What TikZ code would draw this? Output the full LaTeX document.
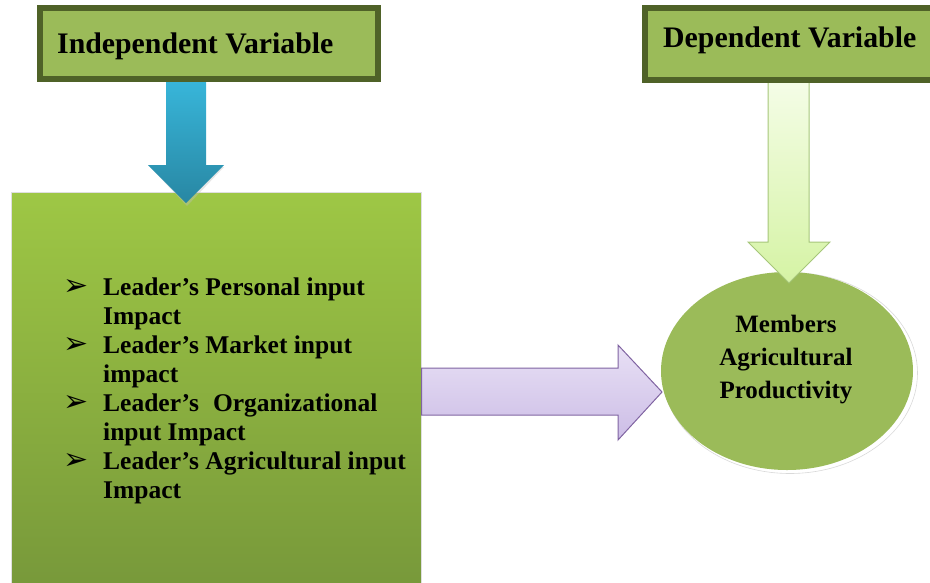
\documentclass[tikz,border=0pt]{standalone}
\usepackage{fontspec}
\usetikzlibrary{shapes.geometric}
\setmainfont{Liberation Serif}
\newfontfamily\dejavu{DejaVu Sans}
\definecolor{olivefill}{HTML}{9BBB59}
\definecolor{olivedark}{HTML}{4F6228}
\definecolor{boxtop}{HTML}{9EC745}
\definecolor{boxbot}{HTML}{77983A}
\definecolor{bluetop}{HTML}{38B6DA}
\definecolor{bluebot}{HTML}{2887A3}
\definecolor{purptop}{HTML}{E8E0F5}
\definecolor{purpbot}{HTML}{CCBDE6}
\definecolor{purpline}{HTML}{8064A2}
\definecolor{lgtop}{HTML}{F5FDE8}
\definecolor{lgbot}{HTML}{D5F3A4}
\definecolor{lgline}{HTML}{A6C67A}
\tikzset{
  headbox/.style={draw=olivedark, line width=6pt, fill=olivefill, inner sep=0pt},
  headtext/.style={font=\bfseries\fontsize{29.8}{34}\selectfont, inner sep=0pt, anchor=base west},
  bigarrow/.style={line width=1pt, line join=miter},
}
\newcommand{\bul}{{\dejavu\fontsize{30}{30}\selectfont ➢}}
\begin{document}
\begin{tikzpicture}[x=1pt,y=-1pt]
\useasboundingbox (0,0) rectangle (930,582);
% big green box
\node[inner sep=0pt, minimum width=410pt, minimum height=400pt, anchor=north west,
      top color=boxtop, bottom color=boxbot, draw=gray!25, line width=0.6pt] (lbox) at (11,192) {};
% list
\node[anchor=base west, inner sep=0pt] (list) at (63,295)
  {\bfseries\fontsize{25.5}{29}\selectfont
   \begin{tabular}[t]{@{}p{40pt}@{}l@{}}
   \bul & Leader’s Personal input\\
        & Impact\\
   \bul & Leader’s Market input\\
        & impact\\
   \bul & Leader’s\hspace{0.3em} Organizational\\
        & input Impact\\
   \bul & Leader’s Agricultural input\\
        & Impact
   \end{tabular}};
% circle
\node[ellipse, minimum width=255pt, minimum height=201pt, fill=white, draw=gray!30, line width=0.6pt, inner sep=0pt] (circsh) at (790,373) {};
\node[ellipse, minimum width=252pt, minimum height=198pt, fill=olivefill, inner sep=0pt] (circ) at (787,371) {};
\node[anchor=base, inner sep=0pt] (circtext) at (786,332)
  {\bfseries\fontsize{25}{33}\selectfont
   \begin{tabular}[t]{@{}c@{}}Members\\ Agricultural\\ Productivity\end{tabular}};
% purple arrow from list box to circle
\coordinate (pstart) at (lbox.east |- 0,368);
\coordinate (ptip) at (662,392);
\path[bigarrow, draw=purpline, top color=purptop, bottom color=purpbot]
  (pstart) -- (618,368) -- (618,345) -- (ptip) -- (618,440) -- (618,415) -- (pstart |- 0,415) -- cycle;
% blue arrow
\fill[gray!50, opacity=0.4] (187,206) -- (150,167) -- (224,167) -- cycle;
\path[top color=bluetop, bottom color=bluebot]
  (166,80) -- (206,80) -- (206,165) -- (224,165) -- (186,203) -- (148,165) -- (166,165) -- cycle;
% light green arrow
\path[bigarrow, draw=lgline, top color=lgtop, bottom color=lgbot]
  (768,78) -- (809,78) -- (809,242) -- (830,242) -- (789,283) -- (748,242) -- (768,242) -- cycle;
% header boxes
\node[headbox, minimum width=338pt, minimum height=71pt] (ivbox) at (209,43.5) {};
\node[headtext] (ivtext) at (57,53) {Independent Variable};
\node[headbox, minimum width=295pt, minimum height=72pt] (dvbox) at (792.5,44) {};
\node[headtext] (dvtext) at (663,47) {Dependent Variable};
\end{tikzpicture}
\end{document}
